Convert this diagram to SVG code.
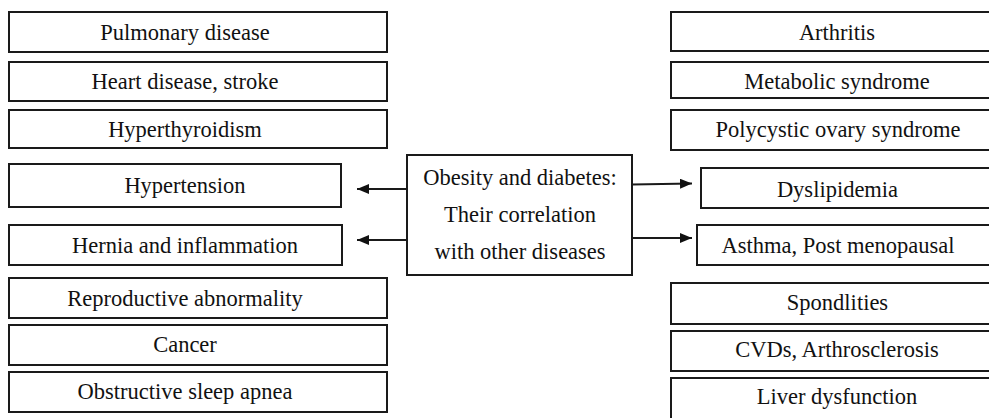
<svg xmlns="http://www.w3.org/2000/svg" width="989" height="418" viewBox="0 0 989 418">
<defs>
<style>
rect{fill:#fff;stroke:#1a1a1a;stroke-width:2}
text{font-family:"Liberation Serif","Times New Roman",serif;font-size:22.5px;fill:#111;text-anchor:middle}
.c line{stroke:#1a1a1a;stroke-width:2}
</style>
<marker id="ah" viewBox="0 0 12 10" refX="12" refY="5" markerWidth="12" markerHeight="10" markerUnits="userSpaceOnUse" orient="auto">
<path d="M0,0L12,5L0,10z" fill="#111"/>
</marker>
</defs>
<rect width="989" height="418" style="fill:#fff;stroke:none"/>
<g id="pulmonary"><rect x="9" y="12" width="378" height="40"/><text x="185" y="40">Pulmonary disease</text></g>
<g id="heart"><rect x="9" y="62" width="378" height="39"/><text x="185" y="89">Heart disease, stroke</text></g>
<g id="hyperthyroidism"><rect x="9" y="110" width="378" height="38"/><text x="185" y="137">Hyperthyroidism</text></g>
<g id="hypertension"><rect x="9" y="164" width="332" height="43"/><text x="185" y="193">Hypertension</text></g>
<g id="hernia"><rect x="9" y="225" width="333" height="40"/><text x="185" y="253">Hernia and inflammation</text></g>
<g id="reproductive"><rect x="9" y="278" width="378" height="40"/><text x="185" y="306">Reproductive abnormality</text></g>
<g id="cancer"><rect x="9" y="325" width="378" height="40"/><text x="185" y="352">Cancer</text></g>
<g id="osa"><rect x="9" y="372" width="378" height="40"/><text x="185" y="399">Obstructive sleep apnea</text></g>
<g id="center"><rect x="407" y="155" width="225" height="120"/>
<text x="520" y="185">Obesity and diabetes:</text>
<text x="520" y="222">Their correlation</text>
<text x="520" y="259">with other diseases</text></g>
<g id="arthritis"><rect x="671" y="12" width="322" height="39"/><text x="837" y="40">Arthritis</text></g>
<g id="metabolic"><rect x="671" y="62" width="322" height="36"/><text x="837" y="89">Metabolic syndrome</text></g>
<g id="pcos"><rect x="671" y="110" width="322" height="40"/><text x="838" y="137">Polycystic ovary syndrome</text></g>
<g id="dyslipidemia"><rect x="701" y="168" width="292" height="40"/><text x="837.5" y="197">Dyslipidemia</text></g>
<g id="asthma"><rect x="697" y="225" width="296" height="40"/><text x="838" y="253">Asthma, Post menopausal</text></g>
<g id="spondlities"><rect x="671" y="283" width="322" height="41"/><text x="837.5" y="310">Spondlities</text></g>
<g id="cvds"><rect x="671" y="331" width="322" height="40"/><text x="837" y="357">CVDs, Arthrosclerosis</text></g>
<g id="liver"><rect x="671" y="378" width="322" height="50"/><text x="837" y="404">Liver dysfunction</text></g>
<g class="c" id="connectors">
<line x1="407" y1="189" x2="357" y2="189" marker-end="url(#ah)"/>
<line x1="407" y1="240" x2="357" y2="240" marker-end="url(#ah)"/>
<line x1="632" y1="184.5" x2="692" y2="183.5" marker-end="url(#ah)"/>
<line x1="632" y1="238" x2="692" y2="238" marker-end="url(#ah)"/>
</g>
</svg>
